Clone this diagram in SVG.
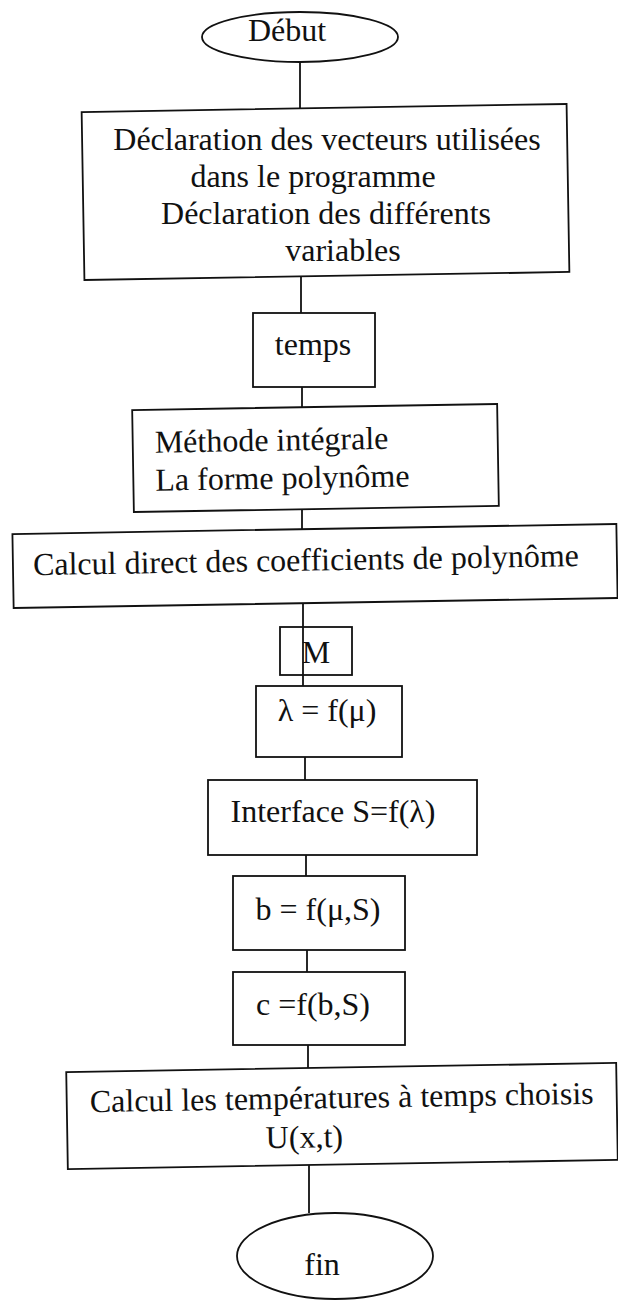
<svg xmlns="http://www.w3.org/2000/svg" width="618" height="1302" viewBox="0 0 618 1302">
<style>
.b{fill:#fff;stroke:#111;stroke-width:1.8}
.t{font-family:"Liberation Serif","Times New Roman",serif;font-size:32px;fill:#111}
.m{text-anchor:middle}
.c line{stroke:#111;stroke-width:1.8}
</style>
<rect width="618" height="1302" fill="#fff"/>
<g id="connectors" class="c">
<line x1="300" y1="62" x2="300" y2="108"/>
<line x1="301" y1="276" x2="301" y2="325"/>
<line x1="302" y1="375" x2="302" y2="420"/>
<line x1="302" y1="497" x2="302" y2="541"/>
<line x1="303" y1="604" x2="303" y2="627"/>
<line x1="303" y1="675" x2="303" y2="686"/>
<line x1="305" y1="757" x2="305" y2="780"/>
<line x1="306" y1="855" x2="306" y2="876"/>
<line x1="307" y1="950" x2="307" y2="972"/>
<line x1="308" y1="1045" x2="308" y2="1068"/>
<line x1="309" y1="1165" x2="309" y2="1213"/>
</g>
<g id="debut">
<ellipse class="b" cx="300" cy="37" rx="98" ry="25"/>
<text class="t m" x="287" y="41">Début</text>
</g>
<g id="declaration">
<rect class="b" x="83" y="108" width="485" height="168" transform="rotate(-0.95 325.5 192)"/>
<text class="t m" x="327" y="150">Déclaration des vecteurs utilisées</text>
<text class="t m" x="313" y="187">dans le programme</text>
<text class="t m" x="326" y="224">Déclaration des différents</text>
<text class="t m" x="343" y="261">variables</text>
</g>
<g id="temps">
<rect class="b" x="253" y="313" width="122" height="74"/>
<text class="t m" x="313" y="355">temps</text>
</g>
<g id="methode" transform="rotate(-0.95 315.5 458)">
<rect class="b" x="133" y="407" width="365" height="102"/>
<text class="t" x="155" y="450">Méthode intégrale</text>
<text class="t" x="155" y="488">La forme polynôme</text>
</g>
<g id="calcul-direct" transform="rotate(-0.95 315 566)">
<rect class="b" x="13" y="529" width="604" height="74"/>
<text class="t m" x="306" y="570.5">Calcul direct des coefficients de polynôme</text>
</g>
<g id="M">
<rect class="b" x="280" y="627" width="72" height="48"/>
<line x1="303" y1="627" x2="303" y2="675" stroke="#111" stroke-width="1.8"/>
<text class="t m" x="316" y="663">M</text>
</g>
<g id="lambda">
<rect class="b" x="256" y="686" width="146" height="71"/>
<text class="t m" x="327" y="721">λ = f(μ)</text>
</g>
<g id="interface">
<rect class="b" x="208" y="780" width="269" height="75"/>
<text class="t m" x="333" y="822">Interface S=f(λ)</text>
</g>
<g id="b">
<rect class="b" x="233" y="876" width="172" height="74"/>
<text class="t m" x="318" y="920">b = f(μ,S)</text>
</g>
<g id="c">
<rect class="b" x="233" y="972" width="172" height="73"/>
<text class="t m" x="313" y="1015">c =f(b,S)</text>
</g>
<g id="calcul-temperatures" transform="rotate(-0.95 342 1116)">
<rect class="b" x="67" y="1067.5" width="550" height="97"/>
<text class="t m" x="342" y="1108">Calcul les températures à temps choisis</text>
<text class="t m" x="304" y="1147">U(x,t)</text>
</g>
<g id="fin">
<ellipse class="b" cx="335" cy="1256" rx="98" ry="43"/>
<text class="t m" x="322" y="1275">fin</text>
</g>
</svg>
